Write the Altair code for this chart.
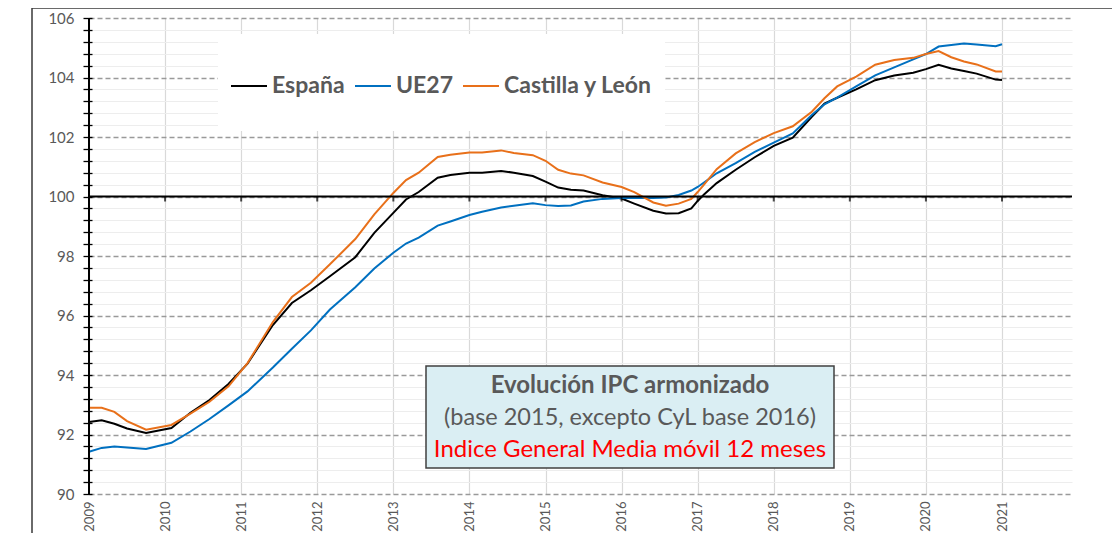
import altair as alt
import pandas as pd

# ---- data ----
months = ["2009-01", "2009-03", "2009-05", "2009-07", "2009-10", "2010-02", "2010-05", "2010-08",
          "2010-11", "2011-02", "2011-06", "2011-09", "2011-12", "2012-03", "2012-07", "2012-10",
          "2013-01", "2013-03", "2013-05", "2013-08", "2013-10", "2014-01", "2014-03", "2014-06",
          "2014-08", "2014-11", "2015-01", "2015-03", "2015-05", "2015-07", "2015-10", "2016-01",
          "2016-03", "2016-06", "2016-08", "2016-10", "2016-12", "2017-01", "2017-02", "2017-04",
          "2017-07", "2017-10", "2018-01", "2018-04", "2018-07", "2018-09", "2018-11", "2019-02",
          "2019-05", "2019-08", "2019-11", "2020-01", "2020-03", "2020-05", "2020-07", "2020-09",
          "2020-12", "2021-01"]

espana = [92.42, 92.48, 92.36, 92.20, 92.05, 92.22, 92.73, 93.16, 93.70, 94.38, 95.68, 96.42,
          96.85, 97.32, 97.96, 98.78, 99.45, 99.90, 100.15, 100.63, 100.72, 100.80, 100.80, 100.86,
          100.80, 100.69, 100.50, 100.30, 100.23, 100.20, 100.04, 99.93, 99.76, 99.52, 99.43, 99.44,
          99.60, 99.85, 100.07, 100.45, 100.90, 101.32, 101.70, 101.98, 102.68, 103.12, 103.32,
          103.60, 103.91, 104.07, 104.16, 104.28, 104.43, 104.30, 104.22, 104.13, 103.93, 103.92]

ue27 = [91.42, 91.55, 91.60, 91.56, 91.51, 91.72, 92.10, 92.52, 92.98, 93.45, 94.25, 94.88,
        95.50, 96.20, 96.95, 97.58, 98.11, 98.42, 98.62, 99.02, 99.16, 99.38, 99.49, 99.63,
        99.69, 99.77, 99.71, 99.68, 99.70, 99.83, 99.92, 99.95, 99.95, 99.95, 99.97, 100.05,
        100.20, 100.32, 100.47, 100.78, 101.12, 101.50, 101.81, 102.12, 102.74, 103.10, 103.32,
        103.70, 104.07, 104.34, 104.61, 104.79, 105.04, 105.09, 105.14, 105.11, 105.05, 105.12]

cyl = [92.90, 92.90, 92.76, 92.45, 92.16, 92.32, 92.70, 93.10, 93.62, 94.40, 95.78, 96.62,
       97.10, 97.72, 98.57, 99.40, 100.12, 100.55, 100.80, 101.33, 101.40, 101.48, 101.48, 101.55,
       101.46, 101.39, 101.20, 100.90, 100.77, 100.71, 100.47, 100.32, 100.15, 99.80, 99.69, 99.76,
       99.92, 100.15, 100.40, 100.92, 101.45, 101.83, 102.13, 102.36, 102.85, 103.30, 103.70,
       104.03, 104.43, 104.59, 104.66, 104.79, 104.89, 104.68, 104.54, 104.44, 104.20, 104.20]

series_names = ["España", "UE27", "Castilla y León"]
series_colors = ["#000000", "#0070C0", "#E8701A"]
year_ticks = list(range(2009, 2022))
y_ticks = [round(90 + 0.4 * i, 1) for i in range(41)]
box_lines = ["Evolución IPC armonizado",
             "(base 2015, excepto CyL base 2016)",
             "Indice General Media móvil 12 meses"]

# ---- table ----
rows = []
for name, vals in zip(series_names, [espana, ue27, cyl]):
    for m, v in zip(months, vals):
        t = int(m[:4]) + (int(m[5:]) - 1) / 12
        rows.append({"t": t, "v": v, "serie": name})
df = pd.DataFrame(rows)

FONT = "Lato"
GREY = "#595959"
is_major = "datum.value % 2 === 0"

xscale = alt.Scale(domain=[2009, 2021.92], nice=False, zero=False)
yscale = alt.Scale(domain=[90, 106], nice=False, zero=False)

x_axis = alt.Axis(
    values=year_ticks, format="d", labelAngle=270, labelFontSize=13, labelColor=GREY,
    labelFont=FONT, ticks=False, domain=False, grid=True, gridColor="#d9d9d9",
    gridWidth=1.2, labelPadding=7, labelFlush=False, title=None)
y_axis = alt.Axis(
    values=y_ticks, title=None, offset=-3, domain=False,
    labelExpr=f"{is_major} ? format(datum.value, 'd') : ''",
    labelFontSize=15, labelColor=GREY, labelFont=FONT, labelPadding=9,
    tickColor="#000000", tickSize=9, tickWidth=1.3,
    grid=True,
    gridColor={"condition": {"test": is_major, "value": "#9a9a9a"}, "value": "#ededed"},
    gridDash={"condition": {"test": is_major, "value": [5, 3]}, "value": []},
    gridWidth={"condition": {"test": is_major, "value": 1.4}, "value": 1.2},
)


def X():
    return alt.X("t:Q", scale=xscale, axis=x_axis)


def Y():
    return alt.Y("v:Q", scale=yscale, axis=y_axis)


lines = alt.Chart(df).mark_line(strokeWidth=2).encode(
    x=X(), y=Y(),
    color=alt.Color("serie:N", scale=alt.Scale(domain=series_names, range=series_colors),
                    legend=alt.Legend(orient="none", legendX=141, legendY=49,
                                      direction="horizontal", title=None, symbolType="stroke",
                                      symbolSize=1296, symbolStrokeWidth=2, labelFontSize=23,
                                      labelFontWeight="bold", labelColor=GREY, labelFont=FONT,
                                      columnPadding=6, labelOffset=4, padding=0)),
)

one = pd.DataFrame({"a": [0]})

legend_bg = alt.Chart(one).mark_rect(color="white").encode(
    x=alt.value(129), x2=alt.value(576), y=alt.value(16), y2=alt.value(113))

hundred = alt.Chart(pd.DataFrame({"v": [100]})).mark_rule(color="black", strokeWidth=2.2).encode(
    y=Y())

yaxis_line = alt.Chart(pd.DataFrame({"t": [2009]})).mark_rule(color="black", strokeWidth=2).encode(
    x=X())

xticks = alt.Chart(pd.DataFrame({"t": year_ticks, "v": [100] * len(year_ticks)})).mark_tick(
    orient="vertical", size=5, thickness=2, yOffset=2.5, color="black").encode(
    x=X(), y=Y())

box = alt.Chart(one).mark_rect(fill="#DAEEF3", stroke="#404040", strokeWidth=1.5).encode(
    x=alt.value(337), x2=alt.value(745), y=alt.value(348), y2=alt.value(450))

t1 = alt.Chart(one).mark_text(text=box_lines[0], font=FONT, fontSize=24, fontWeight="bold",
                              color=GREY, baseline="middle", align="center").encode(
    x=alt.value(541), y=alt.value(368))
t2 = alt.Chart(one).mark_text(text=box_lines[1], font=FONT, fontSize=23.5,
                              color=GREY, baseline="middle", align="center").encode(
    x=alt.value(541), y=alt.value(400))
t3 = alt.Chart(one).mark_text(text=box_lines[2], font=FONT, fontSize=24,
                              color="#FF0000", baseline="middle", align="center").encode(
    x=alt.value(541), y=alt.value(432))

frame = alt.Chart(one).mark_rect(fillOpacity=0, stroke="#3a3a3a", strokeWidth=1.5).encode(
    x=alt.value(-57), x2=alt.value(1100), y=alt.value(-10), y2=alt.value(600))

chart = alt.layer(legend_bg, lines, hundred, xticks, yaxis_line, box, t1, t2, t3, frame).properties(
    width=983, height=476,
    autosize=alt.AutoSizeParams(type="none"),
    padding={"left": 81, "top": 10, "right": 40, "bottom": 39},
).configure_view(stroke=None)

chart.save("out.html", embed_options={"renderer": "svg", "actions": False})
